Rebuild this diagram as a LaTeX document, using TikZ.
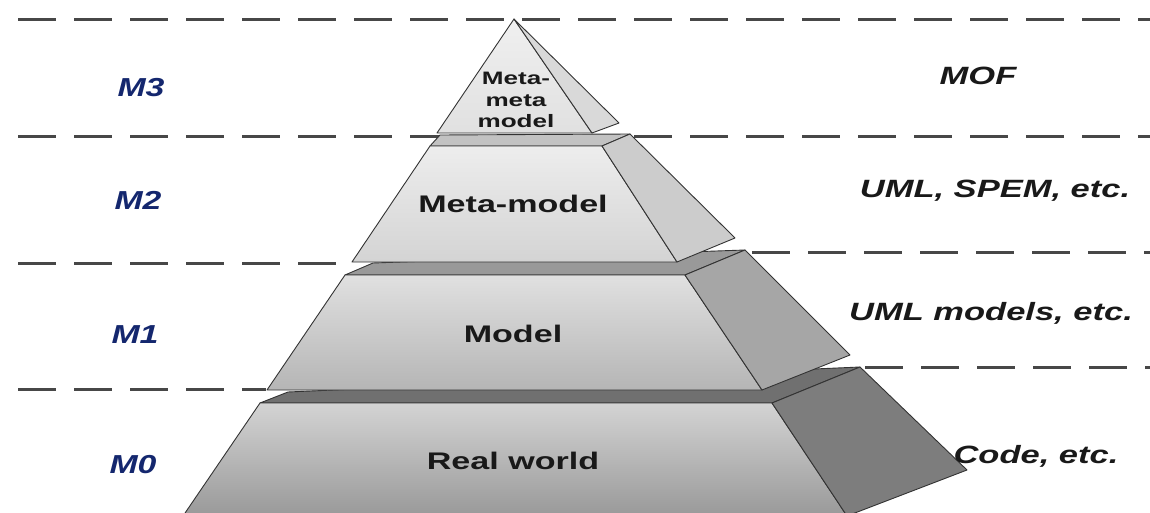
\documentclass[tikz,border=0pt]{standalone}
\usepackage{fontspec}
\setmainfont{Liberation Sans}
\usetikzlibrary{positioning}

\definecolor{levelblue}{HTML}{14276E}
\definecolor{edgegray}{HTML}{333333}
\definecolor{dashgray}{HTML}{474747}

\tikzset{
    layerline/.style={dashgray, line width=3pt, dash pattern=on 38pt off 18pt},
    face/.style={draw=edgegray, line width=0.9pt, line join=round},
    tiertext/.style={font=\fontsize{24}{26}\selectfont\bfseries, text=black!90, anchor=base, xscale=1.42},
    levellabel/.style={font=\fontsize{26}{28}\selectfont\bfseries\itshape, text=levelblue, anchor=base, xscale=1.3},
    langlabel/.style={font=\fontsize{25}{27}\selectfont\bfseries\itshape, text=black!90, anchor=base, xscale=1.38},
}

\begin{document}
\begin{tikzpicture}[x=1pt, y=-1pt]
    \useasboundingbox (0,0) rectangle (1150,513);
    \clip (0,0) rectangle (1150,513);

    % Dashed level borders
    \foreach \y in {20,137} {
            \draw[layerline] (18,\y) -- (1150,\y);
        }
    \draw[layerline] (18,263) -- (352,263);
    \draw[layerline] (752,252) -- (1150,252);
    \draw[layerline] (18,389) -- (266,389);
    \draw[layerline] (865,367) -- (1150,367);

    % Tier M0
    \fill[face, fill=black!56] (260,403) -- (288,392) -- (860,367) -- (772,403) -- cycle;
    \path[face, top color=black!17, bottom color=black!40] (260,403) -- (772,403) -- (847,516) -- (183,516) -- cycle;
    \fill[face, fill=black!51] (772,403) -- (860,367) -- (967,470) -- (847,516) -- cycle;

    % Tier M1
    \fill[face, fill=black!40] (345,275) -- (373,263) -- (745,250) -- (685,275) -- cycle;
    \path[face, top color=black!12, bottom color=black!29] (345,275) -- (685,275) -- (762,390) -- (267,390) -- cycle;
    \fill[face, fill=black!35] (685,275) -- (745,250) -- (850,355) -- (762,390) -- cycle;

    % Tier M2
    \fill[face, fill=black!24] (430,146) -- (440,135) -- (630,134) -- (602,146) -- cycle;
    \path[face, top color=black!7, bottom color=black!17] (430,146) -- (602,146) -- (677,262) -- (352,262) -- cycle;
    \fill[face, fill=black!20] (602,146) -- (630,134) -- (735,238) -- (677,262) -- cycle;

    % Tier M3
    \path[face, top color=black!6, bottom color=black!12] (514,19) -- (592,133) -- (437,133) -- cycle;
    \fill[face, fill=black!15] (514,19) -- (619,123) -- (592,133) -- cycle;

    % Texts on the tiers
    \node[tiertext] (t2) at (513,212) {Meta-model};
    \node[tiertext] (t1) at (513,342) {Model};
    \node[tiertext] (t0) at (513,469) {Real world};
    \node[font=\fontsize{18}{21.5}\selectfont\bfseries, text=black!90, align=center, xscale=1.45] (t3) at (516,100) {Meta-\\meta\\model};

    % Level names
    \node[levellabel] (m3) at (141,97) {M3};
    \node[levellabel] (m2) at (138,209) {M2};
    \node[levellabel] (m1) at (135,343) {M1};
    \node[levellabel] (m0) at (133,473) {M0};

    % Languages of the levels
    \node[langlabel] (mof) at (978,85) {MOF};
    \node[langlabel] (uml) at (995,197) {UML, SPEM, etc.};
    \node[langlabel] (umlm) at (991,320) {UML models, etc.};
    \node[langlabel] (code) at (1036,463) {Code, etc.};

\end{tikzpicture}
\end{document}
